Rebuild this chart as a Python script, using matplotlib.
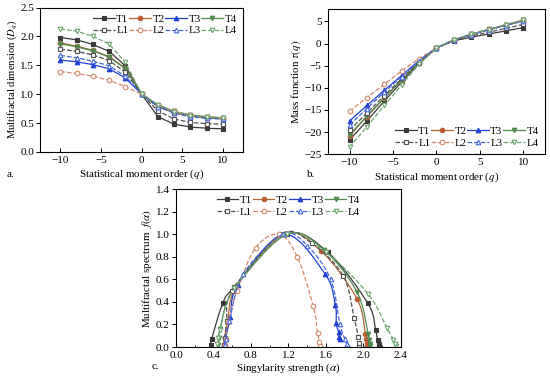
import numpy as np
import matplotlib
matplotlib.use("Agg")
import matplotlib.pyplot as plt
from matplotlib.ticker import MultipleLocator

plt.rcParams['font.family'] = ['Liberation Serif', 'DejaVu Serif']
plt.rcParams['mathtext.fontset'] = 'stix'
plt.rcParams['font.size'] = 7.5

# ---------------- data ----------------
q = [-10, -8, -6, -4, -2, 0, 2, 4, 6, 8, 10]
series = ['T1', 'T2', 'T3', 'T4', 'L1', 'L2', 'L3', 'L4']

# Panel a: generalized dimension D_q
D_T1 = [1.98, 1.94, 1.86, 1.74, 1.49, 1.00, 0.61, 0.48, 0.43, 0.41, 0.40]
D_T2 = [1.89, 1.83, 1.76, 1.65, 1.45, 1.00, 0.78, 0.68, 0.62, 0.59, 0.57]
D_T3 = [1.59, 1.56, 1.51, 1.44, 1.28, 1.00, 0.81, 0.70, 0.63, 0.60, 0.58]
D_T4 = [1.87, 1.82, 1.75, 1.64, 1.44, 1.00, 0.79, 0.70, 0.64, 0.61, 0.59]
D_L1 = [1.78, 1.74, 1.68, 1.58, 1.38, 1.00, 0.71, 0.57, 0.51, 0.49, 0.48]
D_L2 = [1.39, 1.36, 1.31, 1.24, 1.13, 1.00, 0.82, 0.70, 0.64, 0.61, 0.59]
D_L3 = [1.67, 1.63, 1.57, 1.49, 1.31, 1.00, 0.78, 0.67, 0.61, 0.58, 0.57]
D_L4 = [2.13, 2.09, 2.00, 1.87, 1.55, 1.00, 0.82, 0.69, 0.63, 0.60, 0.58]

# Panel b: mass function tau(q)
tau_T1 = [-21.8, -17.5, -13.0, -8.7, -4.5, -1.0, 0.61, 1.44, 2.15, 2.87, 3.6]
tau_T2 = [-20.8, -16.5, -12.3, -8.25, -4.35, -1.0, 0.78, 2.04, 3.1, 4.13, 5.13]
tau_T3 = [-17.5, -14.0, -10.6, -7.2, -3.84, -1.0, 0.81, 2.1, 3.15, 4.2, 5.22]
tau_T4 = [-20.6, -16.4, -12.25, -8.2, -4.32, -1.0, 0.79, 2.1, 3.2, 4.27, 5.31]
tau_L1 = [-19.6, -15.7, -11.8, -7.9, -4.14, -1.0, 0.71, 1.71, 2.55, 3.43, 4.32]
tau_L2 = [-15.3, -12.2, -9.2, -6.2, -3.39, -1.0, 0.82, 2.1, 3.2, 4.27, 5.31]
tau_L3 = [-18.4, -14.7, -11.0, -7.45, -3.93, -1.0, 0.78, 2.01, 3.05, 4.06, 5.13]
tau_L4 = [-23.4, -18.8, -14.0, -9.35, -4.65, -1.0, 0.82, 2.07, 3.15, 4.2, 5.22]

# Panel c: singularity spectrum (alpha, f(alpha))
a_T1 = [2.17, 2.165, 2.15, 2.13, 2.045, 1.62, 1.18, 0.62, 0.50, 0.38, 0.37]
f_T1 = [0.01, 0.03, 0.065, 0.15, 0.39, 0.84, 1.00, 0.53, 0.39, 0.07, 0.015]
a_T2 = [2.04, 2.035, 2.03, 2.02, 1.93, 1.55, 1.16, 0.65, 0.55, 0.52, 0.51]
f_T2 = [0.01, 0.04, 0.07, 0.12, 0.43, 0.85, 1.00, 0.55, 0.22, 0.08, 0.02]
a_T3 = [1.745, 1.74, 1.735, 1.71, 1.70, 1.59, 1.15, 0.66, 0.58, 0.53, 0.52]
f_T3 = [0.07, 0.085, 0.13, 0.21, 0.37, 0.65, 1.00, 0.55, 0.27, 0.08, 0.02]
a_T4 = [2.07, 2.065, 2.06, 2.05, 1.93, 1.58, 1.18, 0.62, 0.47, 0.46, 0.45]
f_T4 = [0.01, 0.03, 0.06, 0.12, 0.49, 0.86, 1.00, 0.52, 0.16, 0.08, 0.02]
a_L1 = [1.95, 1.95, 1.945, 1.90, 1.785, 1.45, 1.12, 0.60, 0.54, 0.52, 0.51]
f_L1 = [0.01, 0.04, 0.09, 0.26, 0.63, 0.92, 1.00, 0.50, 0.23, 0.08, 0.02]
a_L2 = [1.535, 1.53, 1.51, 1.465, 1.294, 1.10, 0.85, 0.65, 0.56, 0.53, 0.52]
f_L2 = [0.01, 0.045, 0.125, 0.36, 0.80, 1.00, 0.88, 0.50, 0.22, 0.07, 0.02]
a_L3 = [1.83, 1.82, 1.80, 1.75, 1.65, 1.40, 1.14, 0.72, 0.57, 0.53, 0.52]
f_L3 = [0.01, 0.03, 0.075, 0.20, 0.60, 0.90, 1.00, 0.65, 0.23, 0.07, 0.02]
a_L4 = [2.35, 2.34, 2.32, 2.25, 2.05, 1.60, 1.18, 0.62, 0.47, 0.45, 0.44]
f_L4 = [0.01, 0.03, 0.066, 0.17, 0.47, 0.84, 1.00, 0.52, 0.15, 0.08, 0.03]

D = dict(T1=D_T1, T2=D_T2, T3=D_T3, T4=D_T4, L1=D_L1, L2=D_L2, L3=D_L3, L4=D_L4)
TAU = dict(T1=tau_T1, T2=tau_T2, T3=tau_T3, T4=tau_T4, L1=tau_L1, L2=tau_L2, L3=tau_L3, L4=tau_L4)
ALPHA = dict(T1=a_T1, T2=a_T2, T3=a_T3, T4=a_T4, L1=a_L1, L2=a_L2, L3=a_L3, L4=a_L4)
FA = dict(T1=f_T1, T2=f_T2, T3=f_T3, T4=f_T4, L1=f_L1, L2=f_L2, L3=f_L3, L4=f_L4)

# ---------------- styles ----------------
STY = {
    'T1': dict(color='#3a3a3a', marker='s', ls='-', mfc='#3a3a3a'),
    'T2': dict(color='#b0683a', marker='o', ls='-', mfc='#d0502a'),
    'T3': dict(color='#2040d0', marker='^', ls='-', mfc='#2040d0'),
    'T4': dict(color='#4f8a4f', marker='v', ls='-', mfc='#4f8a4f'),
    'L1': dict(color='#505050', marker='s', ls='--', mfc='white'),
    'L2': dict(color='#d08a6a', marker='o', ls='--', mfc='white'),
    'L3': dict(color='#4565e0', marker='^', ls='--', mfc='white'),
    'L4': dict(color='#6ea46e', marker='v', ls='--', mfc='white'),
}


def catmull(x, y, n=20):
    p = np.column_stack([x, y]).astype(float)
    p = np.vstack([2 * p[0] - p[1], p, 2 * p[-1] - p[-2]])
    out = []
    for i in range(1, len(p) - 2):
        p0, p1, p2, p3 = p[i - 1], p[i], p[i + 1], p[i + 2]
        t = np.linspace(0, 1, n, endpoint=False)[:, None]
        seg = 0.5 * ((2 * p1) + (-p0 + p2) * t + (2 * p0 - 5 * p1 + 4 * p2 - p3) * t ** 2
                     + (-p0 + 3 * p1 - 3 * p2 + p3) * t ** 3)
        out.append(seg)
    out.append(p[-2][None, :])
    out = np.vstack(out)
    return out[:, 0], out[:, 1]


def style_axes(ax):
    ax.tick_params(axis='x', direction='in', length=3, width=0.7, labelsize=8, pad=3)
    ax.tick_params(axis='y', direction='out', length=3, width=0.7, labelsize=8, pad=1.5)
    ax.tick_params(which='minor', axis='x', direction='in', length=1.8, width=0.6)
    for s in ax.spines.values():
        s.set_linewidth(0.8)


def add_legend(ax, loc, bbox):
    order = ['T1', 'L1', 'T2', 'L2', 'T3', 'L3', 'T4', 'L4']
    handles = [ax.plot([], [], label=s, lw=0.9, ms=3.3, mew=0.8,
                       color=STY[s]['color'], ls=STY[s]['ls'], marker=STY[s]['marker'],
                       mfc=STY[s]['mfc'], mec=STY[s]['color'])[0] for s in order]
    ax.legend(handles=handles, ncol=4, loc=loc, bbox_to_anchor=bbox, frameon=False,
              fontsize=7.8, handlelength=2.0, handletextpad=0.15, columnspacing=0.05,
              labelspacing=0.2, borderaxespad=0.2)


fig = plt.figure(figsize=(5.5, 3.76), dpi=100)
lab_fs = 7.9

# ---- panel a ----
axa = fig.add_axes([0.073, 0.596, 0.369, 0.384])
for s in series:
    st = STY[s]
    axa.plot(q, D[s], color=st['color'], ls=st['ls'], marker=st['marker'], ms=3.3,
             mfc=st['mfc'], mec=st['color'], mew=0.8, lw=0.9)
axa.set_xlim(-12.5, 12.5)
axa.set_ylim(0, 2.5)
axa.xaxis.set_major_locator(MultipleLocator(5))
axa.yaxis.set_major_locator(MultipleLocator(0.5))
axa.yaxis.set_major_formatter(plt.FormatStrFormatter('%.1f'))
style_axes(axa)
axa.set_xlabel('Statistical moment order ($q$)', fontsize=lab_fs, labelpad=2)
axa.set_ylabel('Multifractal dimension ($D_q$)', fontsize=7.6)
axa.yaxis.set_label_coords(-0.105, 0.5)
add_legend(axa, 'upper right', (1.0, 1.0))

# ---- panel b ----
axb = fig.add_axes([0.596, 0.590, 0.395, 0.386])
for s in series:
    st = STY[s]
    axb.plot(q, TAU[s], color=st['color'], ls=st['ls'], marker=st['marker'], ms=3.3,
             mfc=st['mfc'], mec=st['color'], mew=0.8, lw=0.9)
axb.set_xlim(-12.5, 12.5)
axb.set_ylim(-25, 7.8)
axb.xaxis.set_major_locator(MultipleLocator(5))
axb.yaxis.set_major_locator(MultipleLocator(5))
style_axes(axb)
axb.set_xlabel('Statistical moment order ($q$)', fontsize=lab_fs, labelpad=2)
axb.set_ylabel(r'Mass function $\tau(q)$', fontsize=lab_fs, labelpad=1)
add_legend(axb, 'lower right', (1.0, 0.0))

# ---- panel c ----
axc = fig.add_axes([0.320, 0.077, 0.409, 0.420])
for s in series:
    st = STY[s]
    xs, ys = catmull(ALPHA[s], FA[s])
    axc.plot(xs, ys, color=st['color'], ls=st['ls'], lw=0.9)
    axc.plot(ALPHA[s], FA[s], ls='none', marker=st['marker'], ms=3.3,
             mfc=st['mfc'], mec=st['color'], mew=0.8)
axc.set_xlim(0, 2.4)
axc.set_ylim(0, 1.4)
axc.xaxis.set_major_locator(MultipleLocator(0.4))
axc.xaxis.set_minor_locator(MultipleLocator(0.2))
axc.yaxis.set_major_locator(MultipleLocator(0.2))
axc.xaxis.set_major_formatter(plt.FormatStrFormatter('%.1f'))
axc.yaxis.set_major_formatter(plt.FormatStrFormatter('%.1f'))
style_axes(axc)
axc.set_xlabel(r'Singylarity strength ($\alpha$)', fontsize=lab_fs, labelpad=1)
axc.set_ylabel(r'Multifractal spectrum  $f(\alpha)$', fontsize=lab_fs, labelpad=1)
add_legend(axc, 'upper center', (0.5, 1.0))

fig.text(0.012, 0.537, 'a.', fontsize=lab_fs, va='center')
fig.text(0.558, 0.537, 'b.', fontsize=lab_fs, va='center')
fig.text(0.276, 0.026, 'c.', fontsize=lab_fs, va='center')

fig.savefig('out.png', dpi=100)
